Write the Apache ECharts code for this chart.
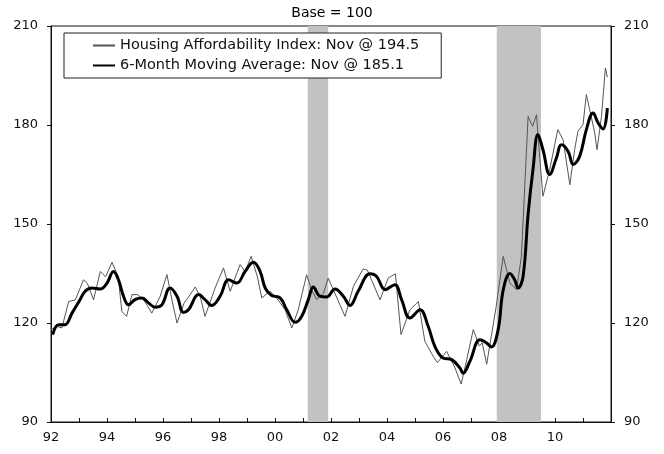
<!DOCTYPE html>
<html>
<head>
<meta charset="utf-8">
<script src="https://cdn.jsdelivr.net/npm/echarts@6/dist/echarts.min.js"></script>
<style>
  html, body { margin: 0; padding: 0; background: #fff; }
  #chart { width: 664px; height: 454px; }
</style>
</head>
<body>
<div id="chart"></div>
<script>
// Housing Affordability Index (thin line): decimal year / value
const haiYears = [
  1992.0, 1992.2, 1992.39, 1992.63, 1992.87, 1993.16, 1993.3, 1993.52, 1993.76, 1993.95,
  1994.18, 1994.4, 1994.53, 1994.7, 1994.89, 1995.1, 1995.35, 1995.6, 1995.9, 1996.14,
  1996.33, 1996.5, 1996.75, 1996.97, 1997.15, 1997.33, 1997.5, 1997.86, 1998.16, 1998.4,
  1998.75, 1998.93, 1999.15, 1999.37, 1999.53, 1999.82, 2000.06, 2000.36, 2000.6, 2000.83,
  2001.13, 2001.31, 2001.49, 2001.73, 2001.9, 2002.14, 2002.5, 2002.8, 2003.15, 2003.3,
  2003.75, 2004.04, 2004.3, 2004.5, 2004.82, 2005.12, 2005.35, 2005.65, 2005.8, 2006.13,
  2006.4, 2006.65, 2006.85, 2007.08, 2007.3, 2007.4, 2007.56, 2007.9, 2008.15, 2008.39,
  2008.63, 2008.8, 2009.04, 2009.2, 2009.34, 2009.46, 2009.57, 2009.81, 2010.1, 2010.29,
  2010.53, 2010.7, 2010.82, 2011.0, 2011.12, 2011.24, 2011.42, 2011.5, 2011.66, 2011.8,
  2011.87
];
const haiValues = [
  118, 119, 118.5, 126.5, 127, 133.1, 132, 127, 135.6, 134,
  138.4, 134, 123.5, 122, 128.6, 128.6, 126.5, 123, 128.1, 134.7,
  126.5, 120, 126, 128.6, 130.9, 128, 122, 130.6, 136.7, 129.6,
  137.7, 135.6, 140.2, 134, 127.6, 129.6, 127.6, 124, 118.5, 124,
  134.6, 130, 127.1, 129, 133.6, 129, 122, 131.1, 136.4, 136,
  127, 133.6, 134.9, 116.5, 124, 126.5, 114.5, 109.9, 108, 111.4,
  107, 101.5, 109, 118, 113, 114, 107.5, 125, 140.2, 132.1,
  130.1, 140.2, 182.6, 179.6, 183.1, 169.5, 158.4, 166.5, 178.6, 175.5,
  161.9, 172.5, 178.1, 180.1, 189.2, 184.6, 177.6, 172.5, 182.6, 197.3,
  194.5
];

// 6-month moving average (thick line)
const maYears = [
  1992.06, 1992.27, 1992.5, 1992.75, 1993.0, 1993.22, 1993.46, 1993.76, 1994.0, 1994.23,
  1994.41, 1994.59, 1994.77, 1995.0, 1995.25, 1995.48, 1995.72, 1995.96, 1996.25, 1996.5,
  1996.73, 1996.91, 1997.27, 1997.5, 1997.74, 1998.04, 1998.34, 1998.64, 1998.93, 1999.23,
  1999.47, 1999.65, 1999.88, 2000.18, 2000.42, 2000.72, 2000.95, 2001.19, 2001.37, 2001.61,
  2001.85, 2002.14, 2002.44, 2002.68, 2002.97, 2003.39, 2003.63, 2003.93, 2004.28, 2004.52,
  2004.82, 2005.18, 2005.47, 2005.71, 2006.0, 2006.31, 2006.6, 2006.72, 2006.96, 2007.32,
  2007.56, 2007.73, 2007.97, 2008.15, 2008.39, 2008.56, 2008.68, 2008.86, 2009.04, 2009.22,
  2009.39, 2009.57, 2009.81, 2010.05, 2010.23, 2010.47, 2010.65, 2010.88, 2011.12, 2011.36,
  2011.54, 2011.72, 2011.87
];
const maValues = [
  116.5, 119.5, 119.5, 123, 126.5, 129.6, 130.6, 130.3, 132.1, 135.6,
  133.1, 128.1, 125.5, 127.1, 127.6, 126.1, 124.8, 125.5, 130.6, 128.1,
  123.2, 124, 128.6, 127.1, 125.3, 128.1, 133.1, 132.1, 135.6, 138.4,
  135.6, 130.6, 128.3, 127.6, 124, 120.2, 122, 127.1, 130.9, 128.1,
  127.9, 130.3, 128.1, 125.3, 129.6, 134.9, 134.1, 130.1, 131.6, 127.1,
  121.5, 124, 119, 112.9, 109.4, 108.9, 106.4, 104.8, 108.4, 114.9,
  113.9, 112.7, 118, 130, 135, 133.1, 130.6, 134.1, 153, 167,
  177.1, 172.5, 165, 170, 174, 172, 168, 170.5, 178.6, 183.6,
  180.6, 178.8, 185.1
];

// recession shading (start, end)
const recessions = [[2001.17, 2001.9], [2007.92, 2009.5]];

const yTicks = [90, 120, 150, 180, 210];
const xLabelYears = [1992, 1994, 1996, 1998, 2000, 2002, 2004, 2006, 2008, 2010];

const seriesNames = [
  'Housing Affordability Index: Nov @ 194.5',
  '6-Month Moving Average: Nov @ 185.1'
];

const pair = (xs, ys) => xs.map((x, i) => [x, ys[i]]);
const font = 'DejaVu Sans';

const yAxisBase = {
  type: 'value',
  min: yTicks[0],
  max: yTicks[yTicks.length - 1],
  interval: 30,
  splitLine: { show: false },
  axisLine: { show: true, lineStyle: { color: '#111', width: 1 } },
  axisTick: { show: true, length: 4, lineStyle: { color: '#111' } },
  axisLabel: { color: '#111', fontFamily: font, fontSize: 13, margin: 13 }
};

const chart = echarts.init(document.getElementById('chart'), null, { renderer: 'canvas' });
chart.setOption({
  animation: false,
  backgroundColor: '#fff',
  title: {
    text: 'Base = 100',
    left: 'center',
    top: 1,
    textStyle: { fontFamily: font, fontSize: 14, fontWeight: 'normal', color: '#000' }
  },
  grid: {
    left: 51, right: 53, top: 26, bottom: 32,
    show: true, borderColor: '#111', borderWidth: 1
  },
  legend: {
    orient: 'vertical',
    left: 64,
    top: 33,
    padding: [5, 22, 5, 28],
    itemGap: 5,
    itemWidth: 22,
    itemHeight: 10,
    borderColor: '#222',
    borderWidth: 1,
    backgroundColor: '#fff',
    itemStyle: { opacity: 0 },
    textStyle: { fontFamily: font, fontSize: 14.5, color: '#111' },
    data: seriesNames
  },
  xAxis: {
    type: 'value',
    min: 1992,
    max: 2012,
    interval: 1,
    splitLine: { show: false },
    axisLine: { show: true, lineStyle: { color: '#111' } },
    axisTick: { show: true, length: 4, inside: true, lineStyle: { color: '#111' } },
    axisLabel: {
      color: '#111', fontFamily: font, fontSize: 13, margin: 9,
      formatter: v => xLabelYears.includes(v) ? String(v).slice(2) : ''
    }
  },
  yAxis: [
    Object.assign({}, yAxisBase, { position: 'left' }),
    Object.assign({}, yAxisBase, { position: 'right' })
  ],
  series: [
    {
      name: seriesNames[0],
      type: 'line',
      data: pair(haiYears, haiValues),
      symbol: 'none',
      lineStyle: { color: '#555', width: 1 },
      itemStyle: { color: '#555' },
      z: 3,
      markArea: {
        silent: true,
        itemStyle: { color: '#c2c2c2' },
        data: recessions.map(r => [{ xAxis: r[0] }, { xAxis: r[1] }])
      }
    },
    {
      name: seriesNames[1],
      type: 'line',
      data: pair(maYears, maValues),
      symbol: 'none',
      smooth: 0.4,
      lineStyle: { color: '#000', width: 3 },
      itemStyle: { color: '#000' },
      z: 4
    }
  ]
});
</script>
</body>
</html>
